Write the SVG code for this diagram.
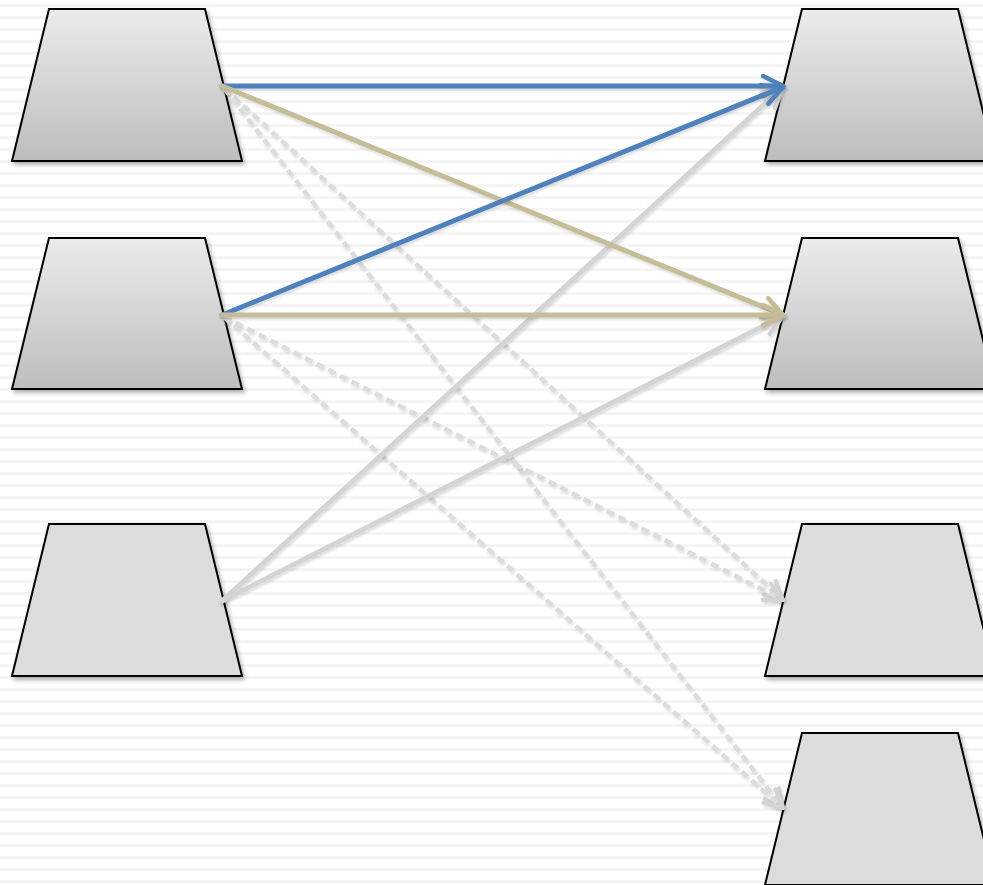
<svg xmlns="http://www.w3.org/2000/svg" width="983" height="885" viewBox="0 0 983 885">
<defs>
<style>
.node{stroke:#000;stroke-width:2;stroke-linejoin:miter;filter:url(#sh)}
.grad{fill:url(#g)}
.flat{fill:#dcdcdc}
.c{fill:none;stroke-width:5;stroke-linecap:round;filter:url(#lsh)}
.blue{stroke:#4f81bd;marker-end:url(#mb)}
.tan{stroke:#c4bd97;marker-end:url(#mt)}
.gray{stroke:#d4d4d4;marker-end:url(#mg)}
.dash{stroke:#dcdcdc;stroke-dasharray:8 5;stroke-linecap:butt;marker-end:url(#md);stroke-width:4.5}
</style>
<linearGradient id="g" x1="0" y1="0" x2="0" y2="1">
<stop offset="0" stop-color="#ebebeb"/>
<stop offset="1" stop-color="#bdbdbd"/>
</linearGradient>
<pattern id="stripes" width="983" height="12" patternUnits="userSpaceOnUse">
<rect width="983" height="12" fill="#ffffff"/>
<rect y="4" width="983" height="3" fill="#f5f5f5"/>
</pattern>
<filter id="sh" x="-10%" y="-10%" width="125%" height="125%">
<feDropShadow dx="2" dy="3" stdDeviation="2" flood-color="#000" flood-opacity="0.3"/>
</filter>
<filter id="lsh" x="-5%" y="-5%" width="110%" height="110%" filterUnits="userSpaceOnUse">
<feDropShadow dx="1" dy="2" stdDeviation="1.5" flood-color="#000" flood-opacity="0.15"/>
</filter>
<marker id="mb" viewBox="0 0 10 10" refX="9" refY="5" markerWidth="5" markerHeight="5" orient="auto" markerUnits="strokeWidth"><path d="M1,1 L9,5 L1,9" fill="none" stroke="#4f81bd" stroke-width="1.8" stroke-linecap="round" stroke-linejoin="round"/></marker>
<marker id="mt" viewBox="0 0 10 10" refX="9" refY="5" markerWidth="5" markerHeight="5" orient="auto" markerUnits="strokeWidth"><path d="M1,1 L9,5 L1,9" fill="none" stroke="#c4bd97" stroke-width="1.8" stroke-linecap="round" stroke-linejoin="round"/></marker>
<marker id="mg" viewBox="0 0 10 10" refX="9" refY="5" markerWidth="5" markerHeight="5" orient="auto" markerUnits="strokeWidth"><path d="M1,1 L9,5 L1,9" fill="none" stroke="#d4d4d4" stroke-width="1.8" stroke-linecap="round" stroke-linejoin="round"/></marker>
<marker id="md" viewBox="0 0 10 10" refX="9" refY="5" markerWidth="5" markerHeight="5" orient="auto" markerUnits="strokeWidth"><path d="M1,1 L9,5 L1,9" fill="none" stroke="#d4d4d4" stroke-width="1.8" stroke-linecap="round" stroke-linejoin="round"/></marker>
</defs>
<rect width="983" height="885" fill="url(#stripes)"/>
<g id="L1"><polygon class="node grad" points="49,9 205,9 242,161 12,161"/></g>
<g id="L2"><polygon class="node grad" points="49,238 205,238 242,389 12,389"/></g>
<g id="L3"><polygon class="node flat" points="49,524 205,524 242,676 12,676"/></g>
<g id="R1"><polygon class="node grad" points="802,9 958,9 995,161 765,161"/></g>
<g id="R2"><polygon class="node grad" points="802,238 958,238 995,389 765,389"/></g>
<g id="R3"><polygon class="node flat" points="802,524 958,524 995,676 765,676"/></g>
<g id="R4"><polygon class="node flat" points="802,733 958,733 995,885 765,885"/></g>
<g id="connectors">
<line class="c dash" x1="224" y1="88" x2="783" y2="600"/>
<line class="c dash" x1="224" y1="88" x2="783" y2="808"/>
<line class="c dash" x1="224" y1="317" x2="783" y2="600"/>
<line class="c dash" x1="224" y1="317" x2="783" y2="808"/>
<line class="c gray" x1="222" y1="601" x2="783" y2="87"/>
<line class="c gray" x1="222" y1="601" x2="783" y2="316"/>
<line class="c blue" x1="222" y1="86" x2="783" y2="86"/>
<line class="c tan" x1="222" y1="86" x2="783" y2="315"/>
<line class="c blue" x1="222" y1="315" x2="783" y2="87"/>
<line class="c tan" x1="222" y1="315" x2="783" y2="315"/>
</g>
</svg>
